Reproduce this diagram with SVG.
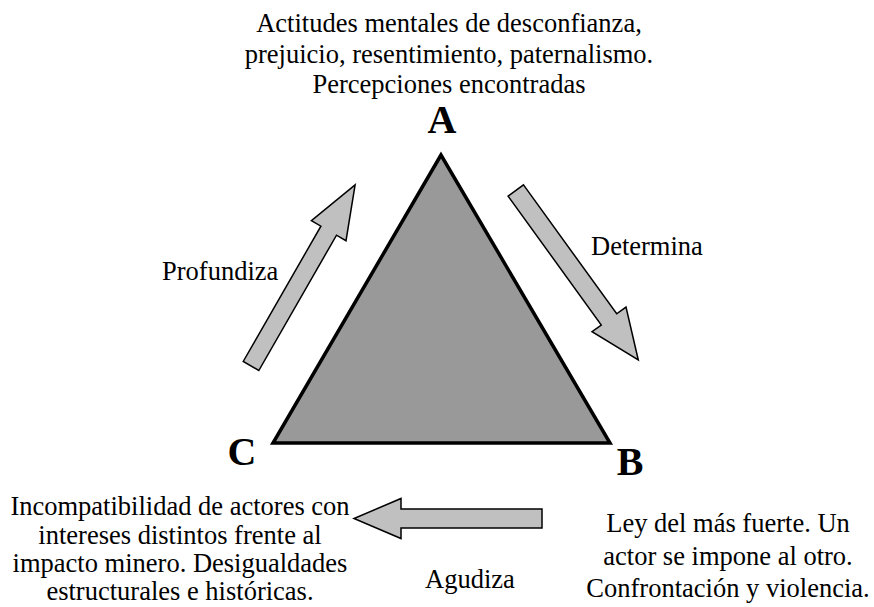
<svg xmlns="http://www.w3.org/2000/svg" width="874" height="607" viewBox="0 0 874 607">
<style>
.t{font-family:"Liberation Serif","Times New Roman",serif;font-size:26.5px;fill:#000;text-anchor:middle}
.l{font-family:"Liberation Serif","Times New Roman",serif;font-size:40px;font-weight:bold;fill:#000;text-anchor:middle}
.arr{fill:#c0c0c0;stroke:#000;stroke-width:1.5;stroke-linejoin:miter}
</style>
<rect width="874" height="607" fill="#fff"/>
<g id="triangle">
<polygon points="441,155 273,443 610,443" fill="#999999" stroke="#000" stroke-width="3.5" stroke-linejoin="miter"/>
</g>
<g id="A">
<text class="t" x="449" y="32">Actitudes mentales de desconfianza,</text>
<text class="t" x="449" y="63">prejuicio, resentimiento, paternalismo.</text>
<text class="t" x="449" y="93">Percepciones encontradas</text>
<text class="l" x="442" y="133">A</text>
</g>
<g id="B">
<text class="l" x="630" y="475">B</text>
<text class="t" x="728" y="532">Ley del más fuerte. Un</text>
<text class="t" x="728" y="565">actor se impone al otro.</text>
<text class="t" x="728" y="597">Confrontación y violencia.</text>
</g>
<g id="C">
<text class="l" x="242" y="465">C</text>
<text class="t" x="180" y="515">Incompatibilidad de actores con</text>
<text class="t" x="180" y="544">intereses distintos frente al</text>
<text class="t" x="180" y="572">impacto minero. Desigualdades</text>
<text class="t" x="180" y="600">estructurales e históricas.</text>
</g>
<g id="connectors">
<polygon class="arr" points="243.2,361.5 320.9,226.2 311.4,220.7 355.1,184.8 346,240.7 336.5,235.2 258.8,370.5"/>
<text class="t" x="162" y="280" style="text-anchor:start">Profundiza</text>
<polygon class="arr" points="523.5,184.9 616.7,313.8 626,307.1 638.3,360 592,331.7 601.3,325 508.1,196.1"/>
<text class="t" x="591" y="255" style="text-anchor:start">Determina</text>
<polygon class="arr" points="542,509 401,509 401,498.5 354,518.5 401,538.5 401,528 542,528"/>
<text class="t" x="470" y="588">Agudiza</text>
</g>
</svg>
